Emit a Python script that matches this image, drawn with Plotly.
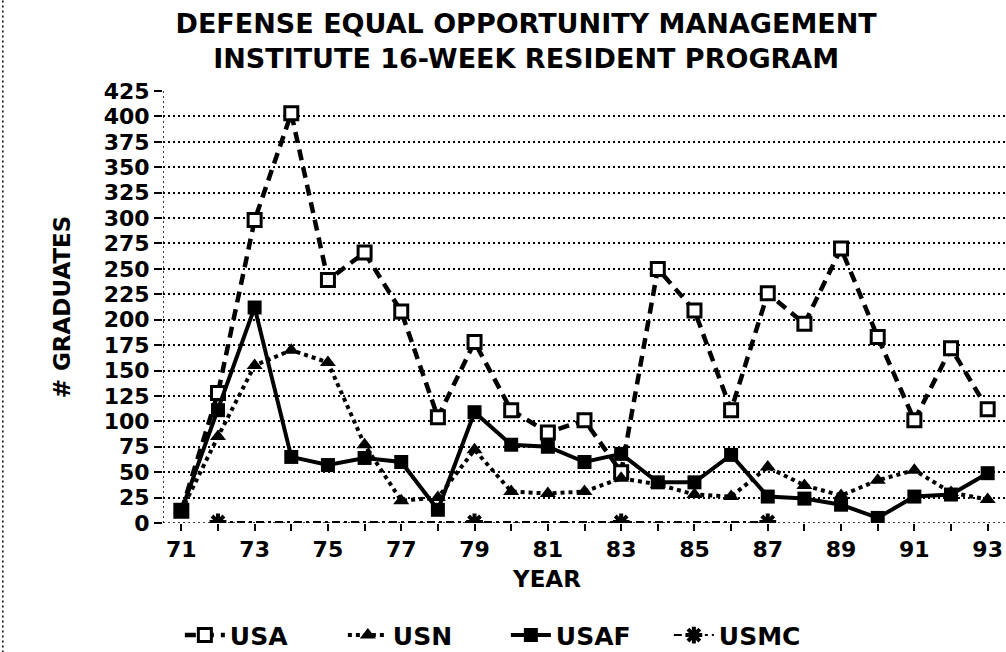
import plotly.graph_objects as go

years = list(range(71, 94))
usa = [12, 128, 298, 403, 239, 266, 208, 104, 178, 111, 89, 101, 50, 250, 209, 111, 226, 196, 270, 183, 101, 172, 112]
usn = [12, 85, 155, 170, 158, 77, 22, 25, 72, 31, 29, 31, 44, 38, 28, 26, 55, 37, 27, 42, 52, 30, 23]
usaf = [12, 111, 212, 65, 57, 64, 60, 13, 109, 77, 75, 60, 68, 40, 40, 67, 26, 24, 18, 5, 26, 28, 49]
usmc_years = [72, 79, 83, 87]
usmc = [1, 1, 1, 1]
x_ticktext = [str(y) if y % 2 == 1 else "" for y in years]
y_ticks = list(range(0, 426, 25))

FONT = "DejaVu Sans"
bold = lambda s: dict(family=FONT, size=s, color="black", weight="bold")

fig = go.Figure()
fig.add_trace(go.Scatter(
    x=years, y=usa, name="USA", mode="lines+markers",
    line=dict(color="black", width=4.5, dash="11px,7px"),
    marker=dict(symbol="square", size=13, color="white", line=dict(color="black", width=3)),
))
fig.add_trace(go.Scatter(
    x=years, y=usn, name="USN", mode="lines+markers",
    line=dict(color="black", width=4, dash="4px,4px"),
    marker=dict(symbol="triangle-up", size=14, color="black"),
))
fig.add_trace(go.Scatter(
    x=years, y=usaf, name="USAF", mode="lines+markers",
    line=dict(color="black", width=4),
    marker=dict(symbol="square", size=14, color="black"),
))
fig.add_trace(go.Scatter(
    x=usmc_years, y=usmc, name="USMC", mode="lines+markers",
    line=dict(color="black", width=2, dash="8px,4px,3px,4px"),
    marker=dict(symbol="asterisk-open", size=14, color="black", line=dict(color="black", width=4)),
))

fig.update_layout(
    width=1006, height=652,
    margin=dict(l=163, r=0, t=91, b=129, autoexpand=False),
    paper_bgcolor="white", plot_bgcolor="white",
    title=dict(
        text="DEFENSE EQUAL OPPORTUNITY MANAGEMENT<br>INSTITUTE 16-WEEK RESIDENT PROGRAM",
        x=0.523, xanchor="center", y=0.949, yanchor="middle",
        font=bold(27),
    ),
    xaxis=dict(
        range=[70.5, 93.5], tickmode="array", tickvals=years, ticktext=x_ticktext,
        ticks="outside", ticklen=7, tickwidth=1.5, tickcolor="black",
        showgrid=False, zeroline=False, showline=False,
        tickfont=bold(22),
    ),
    yaxis=dict(
        range=[0, 425], tickmode="array", tickvals=y_ticks,
        ticks="outside", ticklen=8, tickwidth=1.5, tickcolor="black",
        showgrid=True, gridcolor="black", gridwidth=1.5, griddash="2px,3px",
        zeroline=False, showline=False,
        tickfont=bold(22),
        title=dict(text="# GRADUATES", font=bold(23), standoff=26),
    ),
    legend=dict(
        orientation="h", x=0.02, y=-0.26, xanchor="left", yanchor="middle",
        font=bold(25), bgcolor="rgba(0,0,0,0)", itemwidth=40,
        entrywidth=108, entrywidthmode="pixels",
    ),
    showlegend=True,
    annotations=[
        dict(text="YEAR", xref="paper", yref="paper",
             x=(546 - 163) / 843, y=(523 - 579) / 432,
             xanchor="center", yanchor="middle", showarrow=False, font=bold(23)),
    ],
    shapes=[
        dict(type="line", xref="x", yref="y", x0=70.5, x1=70.5, y0=0, y1=425,
             line=dict(color="black", width=1.5, dash="2px,3px"), layer="below"),
        dict(type="line", xref="x", yref="y", x0=70.5, x1=93.5, y0=0, y1=0,
             line=dict(color="black", width=1.5, dash="2px,3px"), layer="below"),
        dict(type="line", xref="paper", yref="paper", x0=-0.19, x1=-0.19, y0=-0.3, y1=1.215,
             line=dict(color="black", width=1.5, dash="2px,3px")),
    ],
)

fig.write_html(
    "out.html",
    config={"displayModeBar": False},
    post_script="document.body.style.margin='0';document.body.style.overflow='hidden';",
)
